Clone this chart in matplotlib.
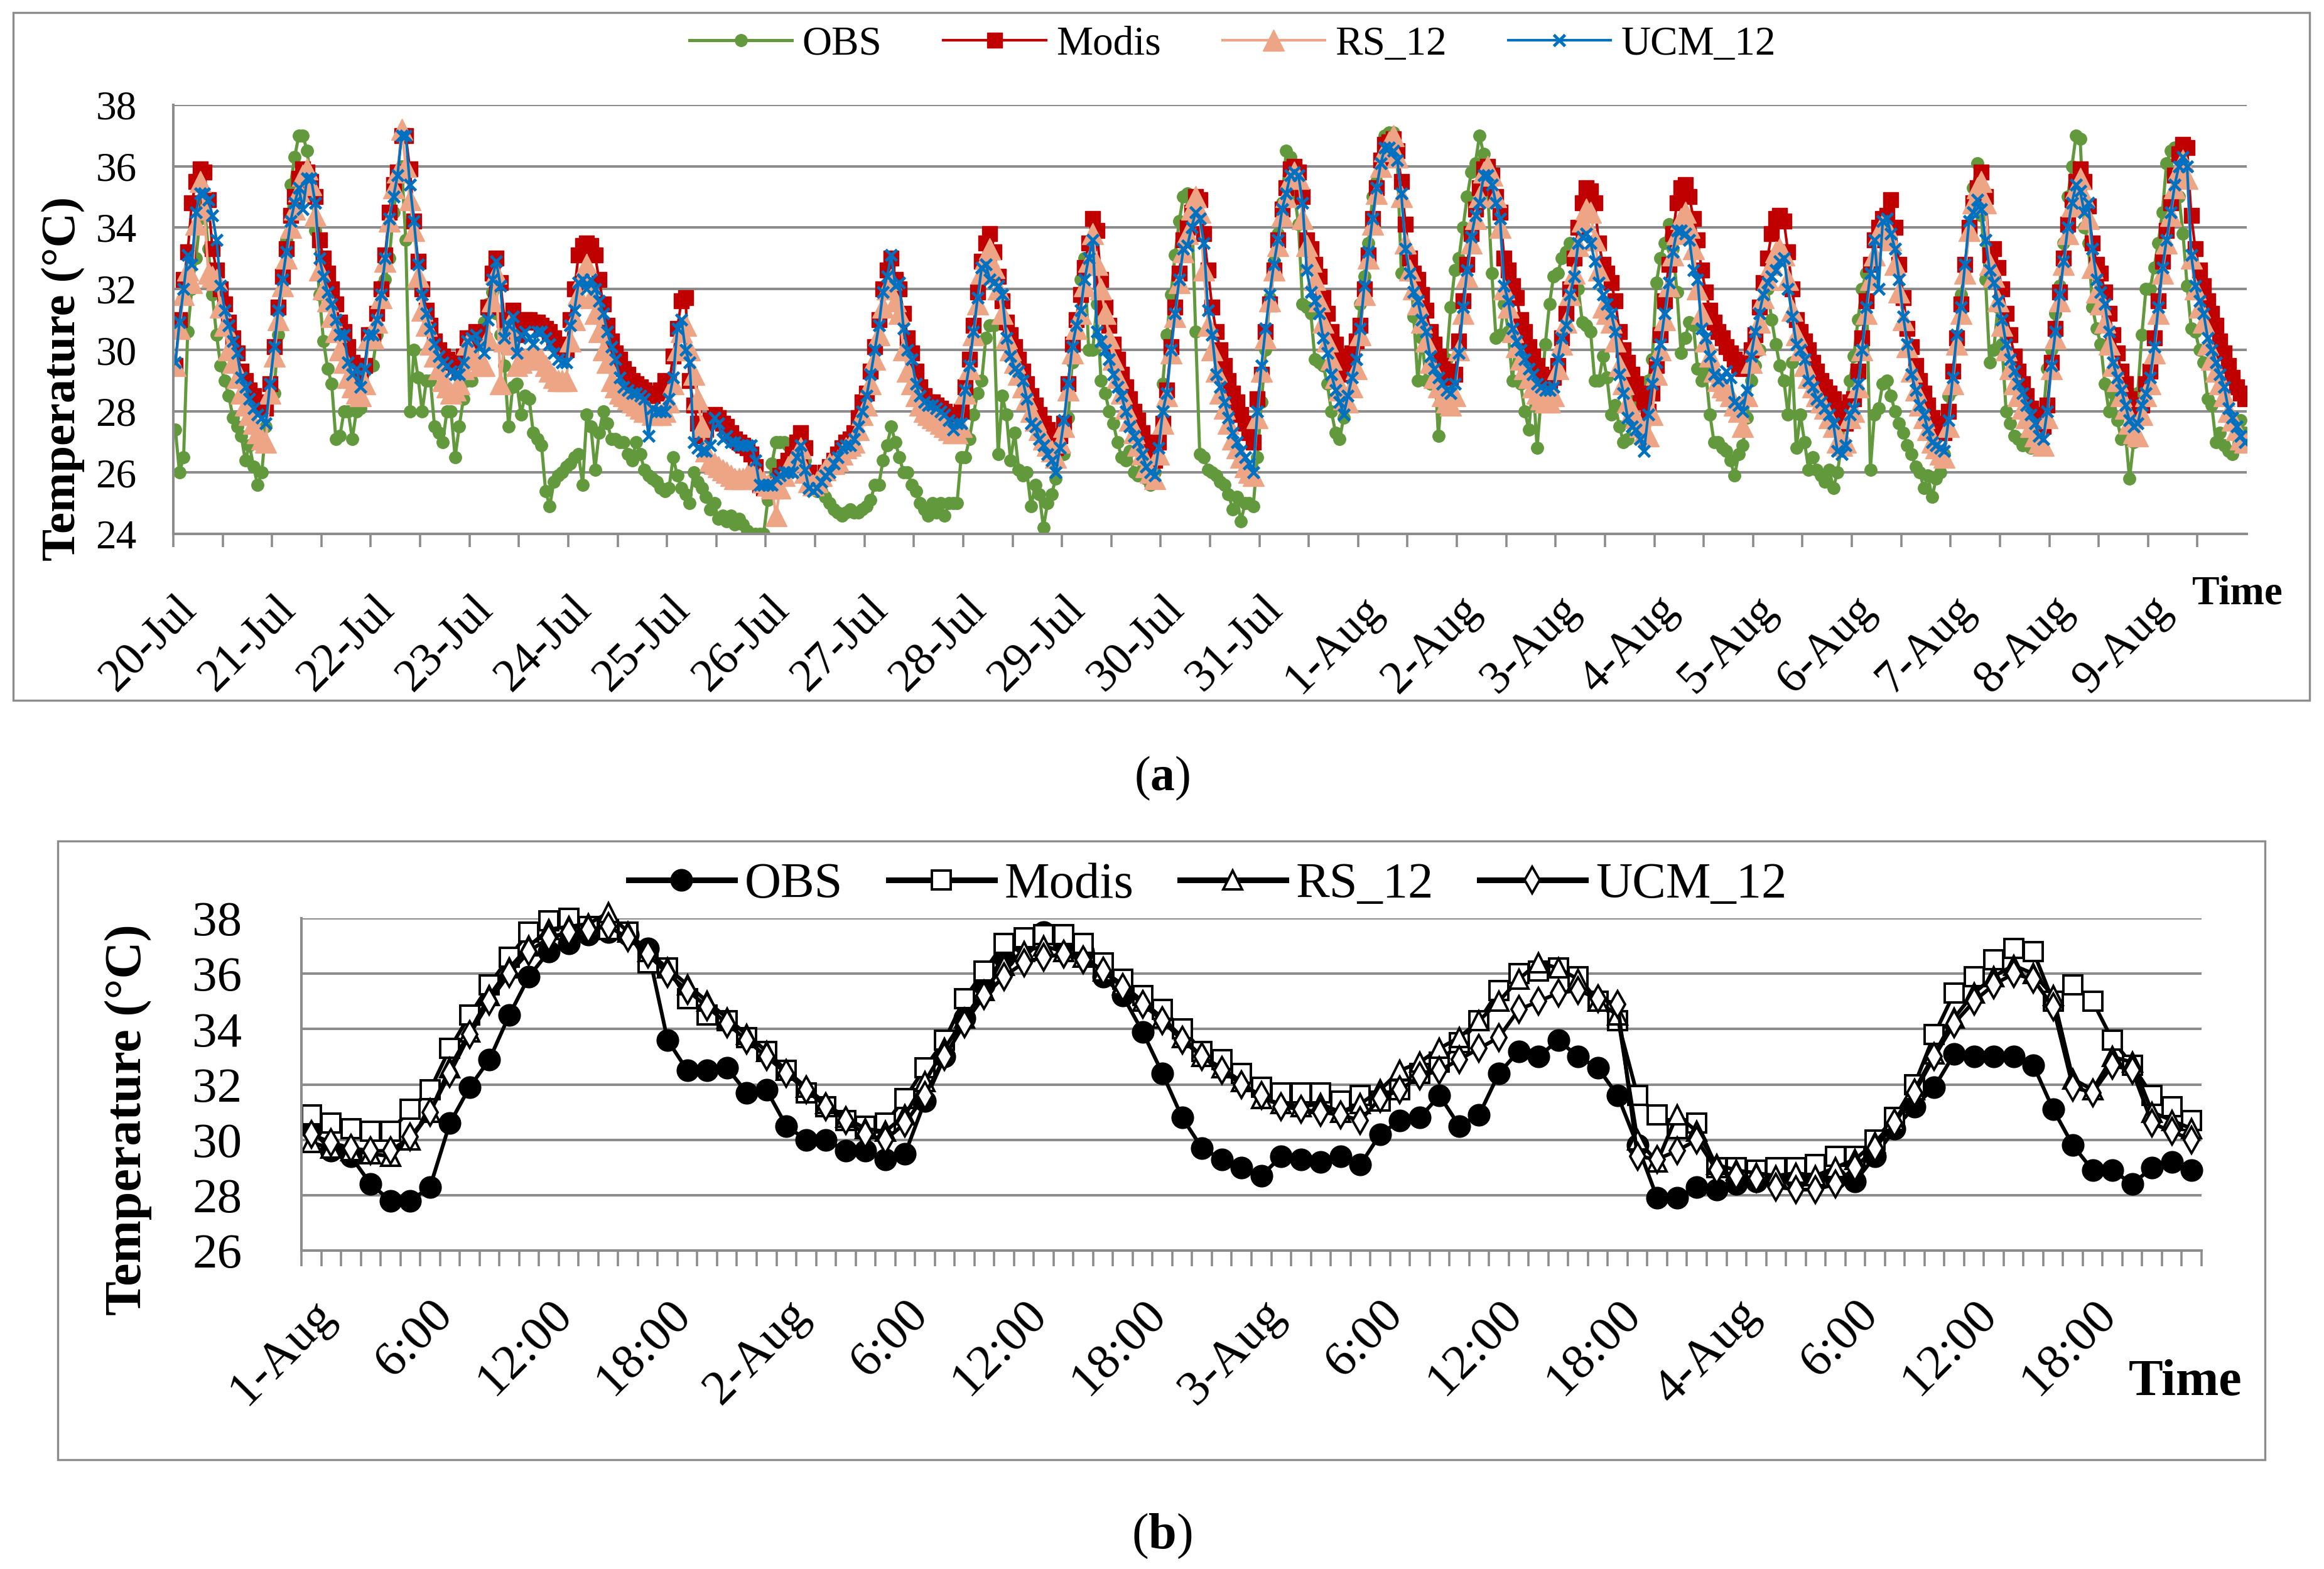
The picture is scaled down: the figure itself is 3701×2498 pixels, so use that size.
import numpy as np
import matplotlib.pyplot as plt
from matplotlib.patches import Rectangle

plt.rcParams['font.family'] = ['Liberation Serif', 'DejaVu Serif']
plt.rcParams['mathtext.fontset'] = 'custom'
plt.rcParams['mathtext.rm'] = 'Liberation Serif'
plt.rcParams['mathtext.bf'] = 'Liberation Serif:bold'

# ---------------- panel (a): hourly, 20-Jul 00h .. 9-Aug 23h ----------------
days_a = ['20-Jul', '21-Jul', '22-Jul', '23-Jul', '24-Jul', '25-Jul', '26-Jul',
          '27-Jul', '28-Jul', '29-Jul', '30-Jul', '31-Jul', '1-Aug', '2-Aug',
          '3-Aug', '4-Aug', '5-Aug', '6-Aug', '7-Aug', '8-Aug', '9-Aug']

obs_a = [
    27.4, 26.0, 26.5, 30.6, 32.0, 33.0, 34.3, 34.8, 33.3, 31.8, 30.5, 29.5, 29.0, 28.5, 27.8, 27.5, 27.2, 26.4, 26.9, 26.2, 25.6, 26.0, 27.5, 28.8,
    28.6, 30.5, 32.0, 33.6, 35.4, 36.3, 37.0, 37.0, 36.5, 35.5, 33.9, 31.8, 30.3, 29.4, 28.9, 27.1, 27.2, 28.0, 28.0, 27.1, 28.0, 28.1, 29.3, 29.5,
    29.5, 30.5, 32.1, 32.3, 33.0, 34.5, 35.4, 36.0, 33.6, 28.0, 30.0, 29.1, 28.0, 29.0, 29.0, 27.5, 27.3, 27.0, 28.0, 28.0, 26.5, 27.5, 28.4, 29.0,
    29.0, 29.6, 30.3, 30.9, 31.5, 31.9, 31.2, 30.5, 29.5, 27.5, 28.8, 28.9, 27.9, 28.5, 28.4, 27.3, 27.1, 26.9, 25.4, 24.9, 25.7, 25.9, 26.0, 26.2,
    26.3, 26.5, 26.6, 25.6, 27.9, 27.5, 26.1, 27.3, 28.0, 27.6, 27.1, 27.1, 27.0, 27.0, 26.6, 26.4, 27.0, 26.6, 26.1, 25.9, 25.8, 25.7, 25.5, 25.4,
    25.5, 26.5, 25.9, 25.5, 25.3, 25.0, 26.0, 25.7, 25.5, 25.2, 24.8, 25.0, 24.5, 24.6, 24.4, 24.6, 24.3, 24.5, 24.3, 24.1, 24.0, 24.0, 24.0, 24.0,
    25.1, 26.3, 27.0, 27.0, 27.0, 26.9, 26.6, 26.8, 26.5, 26.4, 25.8, 25.6, 25.4, 25.4, 25.2, 25.0, 24.8, 24.7, 24.6, 24.7, 24.8, 24.7, 24.7, 24.8,
    24.9, 25.1, 25.6, 25.6, 26.4, 26.9, 27.5, 27.0, 26.5, 26.0, 26.0, 25.6, 25.4, 25.0, 24.8, 24.6, 25.0, 24.7, 25.0, 24.6, 25.0, 25.0, 25.0, 26.5,
    26.5, 27.1, 27.9, 28.6, 29.0, 30.4, 30.8, 30.8, 26.6, 28.5, 27.9, 26.4, 27.3, 26.1, 25.9, 26.0, 24.9, 25.6, 25.3, 24.2, 25.0, 25.3, 25.8, 26.6,
    26.6, 27.8, 29.6, 30.8, 32.3, 33.0, 30.0, 30.0, 31.5, 29.0, 28.6, 28.0, 27.6, 27.0, 26.5, 26.4, 26.7, 26.0, 25.9, 26.1, 25.8, 25.6, 26.0, 26.5,
    28.9, 30.5, 31.8, 33.1, 34.2, 35.0, 35.1, 34.8, 30.6, 26.6, 26.5, 26.1, 26.0, 25.9, 25.7, 25.6, 25.3, 24.8, 25.2, 24.4, 25.0, 25.0, 24.9, 26.5,
    28.3, 30.0, 31.7, 32.9, 33.8, 34.8, 36.5, 36.3, 35.1, 34.1, 31.5, 31.4, 31.2, 29.7, 29.6, 29.5, 28.9, 28.0, 27.3, 27.1, 27.8, 28.6, 29.4, 30.2,
    31.5, 32.4, 33.5, 35.0, 35.5, 36.2, 37.0, 37.1, 37.1, 36.3, 32.5, 33.2, 33.0, 31.1, 29.0, 30.4, 29.0, 28.9, 29.7, 27.2, 28.9, 29.7, 31.4, 32.6,
    33.0, 34.0, 35.0, 35.8, 36.1, 37.0, 36.4, 35.2, 32.5, 30.4, 30.5, 31.5, 30.6, 29.0, 30.5, 28.9, 28.0, 27.4, 29.0, 26.8, 28.5, 30.2, 31.5, 32.4,
    32.5, 33.0, 33.2, 33.5, 32.9, 32.0, 30.9, 30.8, 30.6, 29.0, 29.0, 29.8, 29.1, 27.9, 28.2, 27.5, 27.0, 27.1, 27.6, 28.4, 28.9, 28.7, 29.0, 29.7,
    32.2, 33.0, 33.5, 34.1, 33.3, 31.9, 29.9, 30.4, 30.9, 30.8, 29.4, 29.0, 29.3, 27.9, 27.0, 27.0, 26.8, 26.7, 26.4, 25.9, 26.6, 26.9, 27.8, 29.0,
    29.5, 30.0, 31.5, 32.0, 31.0, 30.2, 29.5, 29.0, 27.9, 29.6, 26.8, 27.9, 27.0, 26.1, 26.5, 26.1, 25.9, 25.7, 26.1, 25.5, 26.0, 26.9, 27.9, 29.0,
    29.8, 31.0, 32.0, 32.5, 26.1, 27.9, 28.1, 28.9, 29.0, 28.5, 28.0, 27.6, 27.3, 26.9, 26.6, 26.2, 26.0, 25.5, 25.9, 25.2, 25.8, 26.0, 26.6, 28.5,
    28.7, 30.4, 31.8, 32.6, 34.0, 35.3, 36.1, 34.4, 32.3, 29.6, 30.0, 31.4, 30.2, 28.0, 27.6, 27.2, 27.1, 26.9, 27.0, 26.8, 27.2, 27.1, 27.8, 29.4,
    30.0, 31.2, 32.1, 33.5, 35.0, 36.0, 37.0, 36.9, 34.0, 33.5, 31.4, 30.7, 30.2, 28.9, 28.0, 28.6, 27.7, 27.1, 27.3, 25.8, 27.0, 28.6, 30.5, 32.0,
    32.0, 32.7, 33.5, 34.5, 36.1, 36.5, 36.6, 35.0, 33.8, 32.1, 30.7, 30.6, 30.0, 29.6, 28.4, 28.2, 27.0, 27.3, 26.9, 26.7, 26.6, 27.5, 27.7, 27.3,
]

modis_a = [
    29.5, 31.0, 32.3, 33.2, 34.8, 35.5, 35.9, 35.8, 34.9, 33.3, 32.6, 32.0, 31.5, 30.9, 30.4, 29.9, 29.3, 29.0, 28.7, 28.5, 28.3, 28.2, 28.1, 28.9,
    30.1, 31.4, 32.4, 33.3, 34.4, 35.0, 35.6, 35.9, 35.8, 35.5, 35.0, 33.6, 33.0, 32.5, 32.0, 31.5, 30.9, 30.6, 30.1, 29.6, 29.5, 29.2, 29.5, 30.5,
    30.5, 31.2, 32.0, 33.1, 34.5, 35.4, 35.8, 37.0, 37.0, 35.9, 34.2, 32.9, 32.0, 31.3, 30.8, 30.3, 30.0, 29.8, 29.7, 29.6, 29.5, 29.4, 29.8, 30.4,
    30.4, 30.6, 30.3, 30.3, 31.4, 32.5, 33.0, 32.2, 31.0, 30.9, 31.3, 30.5, 30.9, 31.0, 31.0, 30.9, 30.9, 30.8, 30.7, 30.6, 30.4, 30.2, 30.1, 30.0,
    31.0, 32.0, 33.1, 33.4, 33.5, 33.4, 33.1, 32.3, 31.5, 30.8, 30.3, 29.9, 29.7, 29.4, 29.2, 29.0, 28.9, 28.8, 28.7, 28.6, 28.5, 28.6, 28.7, 29.0,
    28.9, 29.8, 30.7, 31.6, 31.7, 29.0, 28.2, 27.6, 27.2, 27.4, 27.7, 27.9, 27.8, 27.6, 27.5, 27.3, 27.1, 27.0, 26.9, 26.8, 26.6, 26.2, 25.6, 25.5,
    25.5, 25.4, 25.6, 25.9, 26.2, 26.4, 26.6, 27.0, 27.3, 26.8, 26.0, 25.6, 25.6, 25.8, 26.0, 26.2, 26.4, 26.6, 26.8, 27.0, 27.1, 27.3, 27.8, 28.3,
    28.6, 29.3, 30.1, 31.0, 32.0, 32.6, 33.0, 32.3, 32.0, 31.2, 30.4, 29.9, 29.3, 28.8, 28.5, 28.3, 28.3, 28.2, 28.1, 28.0, 27.9, 27.8, 27.8, 28.0,
    28.8, 29.7, 30.8, 31.9, 32.9, 33.5, 33.8, 33.2, 32.4, 31.6, 30.9, 30.5, 30.1, 29.7, 29.3, 28.9, 28.5, 28.2, 27.9, 27.6, 27.4, 27.1, 26.8, 27.2,
    27.6, 28.9, 30.2, 31.0, 31.8, 32.7, 33.5, 34.3, 33.9, 32.3, 31.4, 30.8, 30.2, 29.7, 29.2, 28.8, 28.4, 28.0, 27.7, 27.3, 27.0, 26.7, 26.4, 27.0,
    27.6, 28.7, 30.1, 31.4, 32.5, 33.6, 34.0, 34.5, 35.0, 34.9, 33.8, 32.6, 31.4, 30.6, 30.0, 29.5, 29.0, 28.6, 28.3, 27.9, 27.6, 27.3, 27.0, 28.4,
    29.2, 30.6, 31.5, 32.6, 33.6, 34.6, 35.3, 35.9, 36.0, 35.8, 35.0, 33.6, 33.3, 32.8, 32.4, 31.7, 31.2, 30.6, 30.2, 29.8, 29.4, 29.2, 29.9, 30.3,
    30.8, 32.0, 33.1, 34.3, 35.3, 36.2, 36.7, 36.8, 36.9, 36.5, 35.5, 34.1, 33.0, 32.5, 32.3, 31.8, 31.3, 30.6, 30.2, 29.8, 29.5, 29.3, 29.1, 29.2,
    30.3, 31.6, 32.8, 33.8, 34.6, 35.3, 35.9, 36.0, 35.7, 35.0, 34.5, 33.0, 32.6, 32.1, 31.7, 31.0, 30.6, 30.1, 29.8, 29.5, 29.2, 29.1, 29.0, 29.1,
    29.5, 30.4, 31.2, 32.0, 33.0, 34.0, 34.8, 35.3, 35.2, 34.8, 33.5, 32.8, 32.5, 32.2, 31.6, 30.6, 30.0, 29.6, 29.2, 28.9, 28.6, 28.3, 28.0, 28.6,
    29.5, 30.5, 31.6, 32.8, 33.8, 34.8, 35.3, 35.4, 35.0, 34.3, 33.6, 32.6, 31.9, 31.3, 30.9, 30.6, 30.4, 30.1, 29.9, 29.7, 29.5, 29.4, 29.6, 30.0,
    30.5, 31.4, 32.2, 33.0, 33.8, 34.3, 34.4, 34.2, 33.2, 32.0, 31.0, 30.6, 30.3, 30.0, 29.6, 29.3, 29.0, 28.8, 28.6, 28.4, 28.1, 27.8, 27.6, 28.3,
    28.4, 29.3, 30.4, 31.6, 32.8, 33.6, 34.0, 34.3, 34.4, 34.9, 34.0, 32.8, 31.7, 30.7, 30.1, 29.5, 29.0, 28.6, 28.2, 27.8, 27.6, 27.5, 27.3, 28.0,
    29.3, 30.4, 31.5, 32.8, 34.0, 34.8, 35.3, 35.8, 35.0, 33.1, 33.3, 32.7, 32.0, 31.2, 30.5, 29.8, 29.3, 28.9, 28.5, 28.1, 27.9, 27.7, 27.5, 28.2,
    29.6, 30.7, 31.9, 33.0, 34.1, 34.9, 35.5, 35.9, 35.5, 34.7, 33.5, 32.8, 32.5, 31.9, 31.2, 30.5, 29.9, 29.3, 28.9, 28.4, 28.1, 27.8, 28.2, 28.9,
    29.3, 30.4, 31.6, 32.9, 33.9, 34.8, 35.7, 36.4, 36.7, 36.6, 34.4, 33.3, 32.6, 32.1, 31.6, 31.2, 30.8, 30.3, 29.9, 29.5, 29.1, 28.8, 28.6, 28.4,
]

rs12_a = [
    29.5, 30.7, 31.8, 32.6, 32.2, 34.1, 35.5, 34.6, 32.5, 32.4, 32.3, 31.4, 30.8, 30.0, 29.6, 29.1, 28.6, 28.2, 27.9, 27.6, 27.3, 27.1, 27.0, 28.6,
    29.8, 31.0, 32.1, 33.0, 34.0, 34.6, 35.2, 35.7, 35.9, 35.4, 34.4, 32.6, 32.0, 31.6, 31.1, 30.6, 30.0, 29.6, 29.1, 28.8, 28.6, 28.5, 28.9, 30.4,
    30.4, 30.9, 31.7, 32.9, 34.2, 35.3, 35.8, 37.2, 36.0, 34.9, 33.9, 32.4, 31.3, 30.8, 30.2, 29.8, 29.4, 29.0, 28.8, 28.6, 28.7, 28.9, 29.4, 30.2,
    29.8, 29.7, 29.5, 29.5, 30.4, 31.6, 32.5, 28.9, 30.3, 30.8, 30.2, 29.5, 29.6, 29.7, 29.8, 29.8, 29.8, 29.7, 29.5, 29.3, 29.1, 29.0, 29.0, 29.0,
    30.3, 31.0, 31.8, 32.4, 32.8, 31.7, 31.2, 30.6, 30.0, 29.6, 29.0, 28.8, 28.6, 28.5, 28.4, 28.3, 28.2, 28.1, 28.0, 28.0, 27.9, 27.9, 27.9, 28.0,
    28.3, 28.9, 30.0, 30.6, 30.8, 30.0, 29.2, 28.4, 27.5, 26.7, 26.4, 26.3, 26.2, 26.1, 26.0, 25.9, 25.8, 25.8, 25.8, 25.9, 26.0, 25.9, 25.8, 25.7,
    25.6, 25.5, 24.6, 25.5, 25.9, 26.2, 26.4, 26.6, 26.8, 26.0, 25.7, 25.6, 25.7, 25.9, 26.1, 26.3, 26.3, 26.4, 26.6, 26.8, 26.9, 27.0, 27.4, 27.9,
    28.2, 28.9, 29.7, 30.5, 31.4, 32.0, 32.3, 31.6, 31.2, 30.0, 29.3, 28.9, 28.5, 28.2, 28.0, 27.9, 27.8, 27.7, 27.6, 27.5, 27.4, 27.3, 27.3, 27.5,
    28.6, 29.4, 30.5, 31.5, 32.5, 33.0, 33.3, 32.7, 32.0, 31.2, 30.4, 30.0, 29.6, 29.2, 28.8, 28.4, 28.0, 27.7, 27.4, 27.1, 26.9, 26.7, 26.5, 27.0,
    27.5, 28.7, 29.9, 30.7, 31.2, 32.1, 32.9, 33.8, 32.8, 32.0, 31.2, 30.4, 29.7, 29.1, 28.6, 28.1, 27.7, 27.3, 26.9, 26.6, 26.2, 26.0, 25.8, 26.6,
    27.6, 28.5, 29.9, 31.1, 32.2, 33.2, 33.8, 34.6, 35.0, 34.5, 32.6, 30.8, 30.0, 29.3, 28.6, 28.1, 27.6, 27.1, 26.8, 26.5, 26.2, 26.0, 25.9, 27.8,
    29.3, 30.4, 31.6, 32.6, 33.4, 34.4, 35.0, 35.6, 35.8, 35.6, 34.3, 33.4, 32.9, 32.3, 31.6, 30.9, 30.3, 29.7, 29.1, 28.7, 28.4, 28.3, 28.8, 29.4,
    30.5, 31.8, 33.0, 34.1, 35.1, 36.0, 36.5, 36.8, 37.0, 36.3, 35.0, 33.5, 32.6, 32.0, 31.5, 30.9, 30.3, 29.6, 29.1, 28.8, 28.5, 28.3, 28.2, 28.5,
    30.0, 31.2, 32.4, 33.5, 34.3, 35.0, 35.8, 36.0, 35.7, 35.0, 34.0, 32.0, 31.4, 30.6, 30.1, 29.7, 29.4, 29.1, 28.8, 28.6, 28.4, 28.3, 28.3, 28.5,
    29.4, 30.2, 30.9, 31.8, 32.5, 33.4, 34.2, 34.6, 34.5, 33.6, 32.6, 31.4, 31.2, 30.9, 30.3, 29.5, 28.9, 28.3, 28.0, 27.8, 27.5, 27.3, 27.2, 27.9,
    29.2, 30.0, 31.0, 32.1, 33.1, 33.8, 34.3, 34.5, 34.0, 33.3, 32.0, 31.2, 30.3, 29.8, 29.3, 29.0, 28.8, 28.7, 28.5, 28.2, 28.0, 27.5, 28.5, 29.6,
    30.2, 30.9, 31.7, 32.3, 32.8, 33.2, 33.3, 33.1, 32.3, 31.3, 30.5, 30.0, 29.5, 29.1, 28.8, 28.5, 28.3, 28.1, 27.8, 27.5, 27.0, 26.9, 27.0, 27.8,
    28.0, 28.8, 30.0, 31.2, 32.3, 33.1, 33.8, 34.1, 34.0, 33.6, 32.8, 31.9, 31.0, 30.1, 29.3, 28.7, 28.2, 27.8, 27.4, 27.0, 26.8, 26.6, 26.5, 27.5,
    28.9, 30.2, 31.2, 32.5, 33.9, 34.8, 35.3, 35.5, 34.8, 32.8, 32.4, 31.6, 30.8, 30.0, 29.4, 28.9, 28.5, 28.1, 27.8, 27.5, 27.2, 27.0, 26.9, 27.8,
    29.4, 30.4, 31.6, 32.8, 33.8, 34.7, 35.3, 35.6, 35.0, 34.3, 32.7, 31.9, 31.5, 30.9, 30.2, 29.5, 29.0, 28.5, 28.1, 27.6, 27.3, 27.2, 27.9, 28.5,
    28.9, 29.9, 31.2, 32.5, 33.5, 34.4, 35.3, 35.9, 36.2, 35.6, 33.0, 32.0, 31.4, 30.9, 30.2, 29.7, 29.3, 28.9, 28.5, 28.0, 27.7, 27.4, 27.1, 27.0,
]

ucm12_a = [
    29.6, 30.9, 32.0, 33.1, 32.8, 34.5, 35.1, 35.1, 34.9, 34.4, 33.6, 32.1, 31.3, 30.8, 30.3, 29.9, 29.1, 28.8, 28.4, 28.1, 27.9, 27.8, 27.6, 28.9,
    30.1, 31.3, 32.3, 33.2, 34.2, 34.8, 35.3, 34.6, 35.6, 35.6, 34.8, 33.0, 32.4, 31.9, 31.5, 31.0, 30.5, 30.5, 29.6, 29.2, 29.4, 28.8, 29.4, 30.5,
    30.5, 31.0, 31.8, 33.0, 34.3, 35.0, 35.7, 37.0, 37.0, 35.4, 34.2, 32.8, 31.8, 31.2, 30.7, 30.2, 29.8, 29.6, 29.5, 29.3, 29.2, 29.2, 29.6, 30.3,
    30.4, 30.5, 30.1, 29.9, 31.0, 32.3, 32.9, 32.1, 30.4, 30.8, 31.1, 29.9, 30.5, 30.6, 30.4, 30.2, 30.6, 30.6, 30.4, 30.2, 29.9, 29.7, 29.6, 29.6,
    30.8, 31.3, 32.2, 32.3, 32.0, 32.3, 32.0, 31.6, 31.2, 30.6, 30.1, 29.7, 29.1, 28.8, 28.7, 28.6, 28.6, 28.5, 28.4, 27.2, 28.1, 28.0, 28.0, 28.0,
    28.4, 29.1, 30.7, 31.0, 30.0, 29.6, 27.0, 26.8, 26.7, 26.7, 26.9, 27.8, 27.6, 27.1, 27.2, 27.0, 27.0, 26.9, 26.9, 26.9, 26.9, 26.4, 25.6, 25.6,
    25.6, 25.6, 25.8, 25.9, 26.0, 26.0, 26.0, 26.5, 26.9, 26.1, 25.5, 25.4, 25.5, 25.7, 25.9, 26.0, 26.3, 26.5, 26.8, 26.9, 26.9, 27.1, 27.5, 28.0,
    28.5, 29.2, 30.0, 30.8, 31.9, 32.4, 33.1, 32.1, 32.2, 30.7, 30.0, 29.7, 28.9, 28.5, 28.3, 28.2, 28.2, 28.1, 28.0, 27.9, 27.7, 27.4, 27.6, 27.6,
    28.7, 29.5, 30.6, 31.7, 32.7, 32.8, 32.3, 32.2, 32.1, 31.8, 30.4, 29.8, 29.4, 29.3, 29.0, 28.4, 27.6, 27.5, 27.1, 26.9, 26.6, 26.4, 26.0, 26.8,
    27.7, 28.9, 30.1, 30.8, 31.3, 32.3, 33.0, 33.6, 30.6, 30.3, 30.0, 29.7, 29.2, 28.8, 28.5, 28.0, 27.5, 27.2, 27.0, 26.6, 26.2, 26.0, 25.9, 26.8,
    28.0, 28.6, 30.0, 31.2, 32.3, 33.3, 33.4, 34.0, 34.5, 34.3, 33.5, 31.3, 30.5, 29.2, 28.8, 28.3, 27.8, 27.3, 27.0, 26.7, 26.5, 26.3, 26.0, 28.0,
    29.5, 30.7, 31.8, 32.8, 33.6, 34.6, 35.1, 35.7, 35.8, 35.7, 34.8, 32.6, 31.9, 31.6, 31.2, 30.4, 29.9, 29.2, 28.7, 28.3, 27.9, 28.5, 29.1, 29.7,
    30.7, 32.1, 33.2, 34.3, 35.3, 36.1, 36.6, 36.6, 36.5, 36.2, 35.1, 33.3, 32.5, 31.9, 31.6, 31.0, 30.6, 29.8, 29.4, 29.1, 28.9, 28.7, 28.6, 28.9,
    29.9, 31.4, 32.6, 33.7, 34.4, 34.8, 35.7, 35.7, 35.4, 34.8, 34.3, 32.1, 31.6, 30.7, 30.3, 30.0, 29.7, 29.4, 29.2, 28.9, 28.8, 28.7, 28.7, 28.8,
    29.7, 30.4, 30.8, 31.8, 32.4, 33.5, 33.7, 33.8, 33.5, 32.9, 32.2, 31.8, 31.5, 31.2, 30.6, 29.2, 28.6, 27.8, 27.5, 27.4, 27.1, 26.7, 27.9, 28.9,
    29.6, 30.2, 31.2, 32.2, 33.2, 33.9, 33.9, 33.8, 33.6, 32.6, 32.3, 30.7, 30.4, 29.8, 29.2, 29.0, 29.1, 29.3, 29.1, 28.3, 28.2, 28.0, 28.7, 29.8,
    30.6, 31.2, 31.8, 32.2, 32.4, 32.6, 32.9, 33.0, 32.0, 31.1, 30.2, 30.0, 29.7, 29.0, 28.8, 28.4, 28.3, 28.1, 27.9, 27.6, 26.7, 26.6, 26.9, 27.9,
    28.1, 28.9, 30.0, 31.4, 32.5, 33.6, 32.0, 34.2, 34.3, 33.8, 33.3, 32.3, 31.1, 30.2, 29.2, 28.7, 28.2, 27.9, 27.4, 27.0, 26.9, 26.8, 26.7, 27.7,
    29.1, 30.5, 31.4, 32.8, 34.2, 34.5, 34.9, 34.6, 33.6, 32.6, 32.2, 31.6, 31.0, 30.2, 29.7, 29.3, 28.9, 28.6, 28.2, 27.9, 27.6, 27.2, 27.1, 28.0,
    29.5, 30.6, 31.8, 32.9, 34.0, 34.8, 35.4, 35.2, 34.5, 34.8, 33.3, 32.3, 31.9, 31.5, 30.6, 29.6, 29.1, 28.7, 28.2, 27.7, 27.5, 27.6, 28.2, 28.6,
    29.1, 30.1, 31.4, 32.7, 33.6, 34.5, 35.4, 36.0, 36.3, 36.0, 33.1, 32.1, 31.6, 31.2, 30.4, 30.0, 29.6, 29.2, 28.8, 28.1, 27.8, 27.5, 27.2, 27.0,
]

# ---------------- panel (b): hourly, 1-Aug 00h .. 4-Aug 23h ----------------
hours_b = ['1-Aug', '6:00', '12:00', '18:00', '2-Aug', '6:00', '12:00', '18:00',
           '3-Aug', '6:00', '12:00', '18:00', '4-Aug', '6:00', '12:00', '18:00']

obs_b = [
    30.4, 29.6, 29.4, 28.4, 27.8, 27.8, 28.3, 30.6, 31.9, 32.9, 34.5, 35.9, 36.8, 37.1, 37.4, 37.5, 37.4, 36.9, 33.6, 32.5, 32.5, 32.6, 31.7, 31.8,
    30.5, 30.0, 30.0, 29.6, 29.6, 29.3, 29.5, 31.4, 33.0, 34.4, 35.6, 36.6, 37.1, 37.5, 37.1, 36.8, 35.9, 35.2, 33.9, 32.4, 30.8, 29.7, 29.3, 29.0,
    28.7, 29.4, 29.3, 29.2, 29.4, 29.1, 30.2, 30.7, 30.8, 31.6, 30.5, 30.9, 32.4, 33.2, 33.0, 33.6, 33.0, 32.6, 31.6, 29.8, 27.9, 27.9, 28.3, 28.2,
    28.4, 28.5, 28.7, 28.6, 28.7, 28.6, 28.5, 29.4, 30.4, 31.2, 31.9, 33.1, 33.0, 33.0, 33.0, 32.7, 31.1, 29.8, 28.9, 28.9, 28.4, 29.0, 29.2, 28.9,
]

modis_b = [
    30.9, 30.6, 30.4, 30.3, 30.3, 31.1, 31.8, 33.3, 34.5, 35.6, 36.6, 37.5, 37.9, 38.0, 37.7, 37.6, 37.5, 36.4, 36.2, 35.1, 34.5, 34.3, 33.7, 33.2,
    32.5, 31.7, 31.2, 30.7, 30.5, 30.6, 31.5, 32.6, 33.6, 35.1, 36.1, 37.1, 37.3, 37.4, 37.4, 37.1, 36.4, 35.8, 35.2, 34.7, 34.0, 33.2, 32.9, 32.4,
    31.9, 31.7, 31.7, 31.7, 31.4, 31.6, 31.4, 31.8, 32.4, 32.8, 33.5, 34.3, 35.4, 36.0, 36.1, 36.2, 35.9, 35.0, 34.3, 31.6, 30.9, 30.4, 30.6, 29.0,
    29.0, 28.9, 29.0, 29.0, 29.1, 29.4, 29.4, 30.0, 30.8, 32.0, 33.8, 35.3, 35.9, 36.5, 36.9, 36.8, 35.0, 35.6, 35.0, 33.6, 32.7, 31.6, 31.2, 30.7,
]

rs12_b = [
    29.9, 29.7, 29.6, 29.5, 29.4, 30.0, 31.0, 32.6, 33.9, 35.2, 36.2, 37.0, 37.6, 37.7, 37.8, 38.2, 37.5, 36.8, 36.2, 35.6, 35.0, 34.4, 33.8, 33.2,
    32.5, 31.9, 31.3, 30.8, 30.4, 30.3, 30.9, 32.1, 33.3, 34.4, 35.4, 36.3, 36.8, 37.0, 36.8, 36.6, 36.1, 35.6, 35.0, 34.4, 33.7, 33.0, 32.6, 32.1,
    31.5, 31.3, 31.2, 31.3, 31.0, 31.3, 31.8, 32.5, 32.8, 33.3, 33.7, 34.3, 35.0, 35.8, 36.4, 36.2, 35.8, 35.0, 34.5, 30.0, 29.2, 30.9, 30.3, 29.1,
    28.9, 28.8, 28.7, 28.8, 28.7, 29.0, 29.3, 29.9, 30.7, 31.8, 33.1, 34.4, 35.3, 35.9, 36.3, 36.0, 35.2, 32.2, 31.8, 33.0, 32.8, 31.0, 30.7, 30.4,
]

ucm12_b = [
    30.2, 29.9, 29.7, 29.6, 29.6, 30.1, 31.0, 32.4, 33.8, 35.0, 36.0, 36.8, 37.3, 37.5, 37.6, 37.7, 37.3, 36.7, 36.0, 35.4, 34.8, 34.2, 33.6, 33.0,
    32.4, 31.8, 31.2, 30.7, 30.2, 30.0, 30.6, 31.6, 33.0, 34.2, 35.2, 35.9, 36.4, 36.6, 36.7, 36.5, 36.1, 35.5, 34.9, 34.3, 33.6, 33.0, 32.5, 32.0,
    31.6, 31.2, 31.1, 31.0, 30.9, 30.7, 31.5, 31.8, 32.3, 32.5, 32.9, 33.3, 33.7, 34.7, 35.0, 35.3, 35.4, 35.1, 34.9, 29.4, 29.3, 29.6, 30.0, 28.9,
    28.7, 28.6, 28.3, 28.2, 28.2, 28.4, 29.0, 29.7, 30.6, 31.7, 33.0, 34.2, 35.0, 35.6, 36.0, 35.8, 34.8, 31.9, 31.7, 32.7, 32.5, 30.6, 30.3, 30.0,
]

GRID = '#8c8c8c'
GREEN = '#62993d'
RED = '#c00000'
SALMON = '#eea586'
BLUE = '#0070c0'

W, H = 3701, 2498
fig = plt.figure(figsize=(W / 100, H / 100), dpi=100)


def fx(px):
    return px / W


def fy(py):
    return 1 - py / H


def style_axes(ax, ylo, yhi, tick_len, ypad, ysize):
    ax.set_ylim(ylo, yhi)
    ax.set_yticks(range(ylo, yhi + 1, 2))
    ax.yaxis.grid(True, color=GRID, lw=2.9)
    ax.set_axisbelow(True)
    for s in ['top', 'right']:
        ax.spines[s].set_visible(False)
    for s in ['left', 'bottom']:
        ax.spines[s].set_color(GRID)
        ax.spines[s].set_linewidth(2.9)
    ax.tick_params(axis='y', length=0, pad=ypad, labelsize=ysize)
    ax.tick_params(axis='x', which='major', direction='out', length=tick_len,
                   width=2.6, color=GRID, labelbottom=False)


# ---- panel (a) ----
ax1 = fig.add_axes([fx(276), fy(850), fx(3578) - fx(276), fy(167) - fy(850)])
xa = np.arange(len(obs_a)) + 0.5
ax1.plot(xa, obs_a, color=GREEN, lw=3.6, marker='o', ms=14, mec=GREEN, label='OBS')
ax1.plot(xa, modis_a, color=RED, lw=3.0, marker='s', ms=17, mec=RED, label='Modis')
ax1.plot(xa, rs12_a, color=SALMON, lw=3.0, marker='^', ms=24, mec=SALMON, label='RS_12')
ax1.plot(xa, ucm12_a, color=BLUE, lw=3.0, marker='x', ms=13, mew=3.5, label='UCM_12')
ax1.set_xlim(0, len(obs_a))
style_axes(ax1, 24, 38, 15, 42, 47)
ax1.set_xticks(range(0, len(obs_a), 12))
ax1.set_xticks(np.arange(len(days_a)) * 24 + 0.5, minor=True)
ax1.set_xticklabels(days_a, minor=True)
ax1.tick_params(axis='x', which='minor', length=0, pad=62, labelsize=53)
for lab in ax1.get_xticklabels(minor=True):
    lab.set_rotation(45)
    lab.set_rotation_mode('anchor')
    lab.set_ha('right')
    lab.set_va('top')

leg1 = fig.legend(*ax1.get_legend_handles_labels(), loc='center',
                  bbox_to_anchor=(fx(1963), fy(71)), ncol=4, frameon=False,
                  fontsize=47, handlelength=2.5, handletextpad=0.25,
                  columnspacing=1.5)

fig.text(fx(100), fy(603), 'Temperature (°C)', rotation=90, ha='center',
         va='center', fontsize=55, fontweight='bold')
fig.text(fx(3563), fy(945), 'Time', ha='center', va='center', fontsize=47,
         fontweight='bold')
fig.text(0.5, fy(1239), r'($\mathbf{a}$)', ha='center', va='center', fontsize=56)

# ---- panel (b) ----
ax2 = fig.add_axes([fx(480), fy(1991), fx(3506) - fx(480), fy(1462) - fy(1991)])
xb = np.arange(len(obs_b)) + 0.5
ax2.plot(xb, obs_b, color='black', lw=4.3, marker='o', ms=25, mfc='black',
         label='OBS', clip_on=False)
ax2.plot(xb, modis_b, color='black', lw=4.3, marker='s', ms=21, mfc='white',
         mew=2.8, label='Modis', clip_on=False)
ax2.plot(xb, rs12_b, color='black', lw=4.3, marker='^', ms=21, mfc='white',
         mew=2.8, label='RS_12', clip_on=False)
ax2.plot(xb, ucm12_b, color='black', lw=4.3, marker='d', ms=21, mfc='white',
         mew=2.8, label='UCM_12', clip_on=False)
ax2.set_xlim(0, len(obs_b))
style_axes(ax2, 26, 38, 18, 68, 57)
ax2.set_xticks(range(0, len(obs_b) + 1))
ax2.set_xticks(np.arange(len(hours_b)) * 6 + 0.5, minor=True)
ax2.set_xticklabels(hours_b, minor=True)
ax2.tick_params(axis='x', which='minor', length=0, pad=47, labelsize=57)
for lab in ax2.get_xticklabels(minor=True):
    lab.set_rotation(45)
    lab.set_rotation_mode('anchor')
    lab.set_ha('right')
    lab.set_va('top')

leg2 = fig.legend(*ax2.get_legend_handles_labels(), loc='center',
                  bbox_to_anchor=(fx(1923), fy(1409)), ncol=4, frameon=False,
                  fontsize=58, handlelength=2.1, handletextpad=0.2,
                  columnspacing=0.9)
for h in leg2.legend_handles:
    h.set_linewidth(6.5)

fig.text(fx(204), fy(1783), 'Temperature (°C)', rotation=90, ha='center',
         va='center', fontsize=59, fontweight='bold')
fig.text(fx(3480), fy(2202), 'Time', ha='center', va='center', fontsize=59,
         fontweight='bold')
fig.text(0.5, fy(2446), r'($\mathbf{b}$)', ha='center', va='center', fontsize=58)

# panel frames
for (x0, y0, x1, y1) in [(21, 20, 3678, 1115), (92, 1339, 3607, 2324)]:
    fig.add_artist(Rectangle((fx(x0), fy(y1)), fx(x1) - fx(x0), fy(y0) - fy(y1),
                             transform=fig.transFigure, fill=False,
                             edgecolor=GRID, lw=2.4))

fig.savefig('out.png', dpi=100, facecolor='white')
